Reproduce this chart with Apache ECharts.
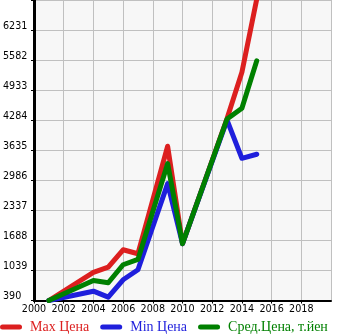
<!DOCTYPE html>
<html>
<head>
<meta charset="utf-8">
<script src="https://cdn.jsdelivr.net/npm/echarts@6/dist/echarts.min.js"></script>
<style>
  html, body { margin: 0; padding: 0; background: #ffffff; }
  #chart { width: 345px; height: 335px; }
</style>
</head>
<body>
<div id="chart"></div>
<script>
// Price history by model year (thousand yen)
const years     = [2001, 2004, 2005, 2006, 2007, 2009, 2010, 2013, 2014, 2015];
const maxPrice  = [390,  996, 1111, 1486, 1400, 3721, 1616, 4320, 5322, 6900];
const minPrice  = [390,  591,  462,  838, 1054, 2914, 1616, 4284, 3461, 3548];
const avgPrice  = [390,  823,  773, 1162, 1277, 3347, 1616, 4310, 4543, 5567];

const seriesNames = ['Max Цена', 'Min Цена', 'Сред.Цена, т.йен'];
const seriesColors = ['#dc1f1f', '#1f1fdc', '#008000'];

// Axis ticks
const yTicks = [390, 1039, 1688, 2337, 2986, 3635, 4284, 4933, 5582, 6231, 6880];
const yLabels = [390, 1039, 1688, 2337, 2986, 3635, 4284, 4933, 5582, 6231];
const xMin = 2000, xMax = 2020, xStep = 2;

const pairs = (vals) => years.map((y, i) => [y, vals[i]]);
const capsule = 'path://M2.5,0H19.5A2.5,2.5,0,0,1,19.5,5H2.5A2.5,2.5,0,0,1,2.5,0Z';

const chart = echarts.init(document.getElementById('chart'), null, { renderer: 'canvas' });

const tickFont = { fontFamily: 'DejaVu Sans', fontSize: 9.6, color: '#000' };

chart.setOption({
  animation: false,
  backgroundColor: '#ffffff',
  grid: {
    left: 31, top: 0, width: 300, height: 300.5,
    show: true, backgroundColor: '#f7f7f7', borderWidth: 0
  },
  xAxis: {
    type: 'value',
    min: xMin, max: xMax, interval: xStep,
    axisLine: { show: true, lineStyle: { color: '#000', width: 2 } },
    axisTick: { show: true, length: 3, lineStyle: { color: '#000', width: 1 } },
    axisLabel: Object.assign({ margin: 4, showMaxLabel: false,
      formatter: (v) => (v >= xMax ? '' : String(v)) }, tickFont),
    splitLine: { show: true, lineStyle: { color: '#c0c0c0', width: 1 } }
  },
  yAxis: {
    type: 'value',
    min: yTicks[0], max: yTicks[yTicks.length - 1],
    axisLine: { show: true, lineStyle: { color: '#000', width: 3 } },
    axisTick: { show: true, length: 3, customValues: yTicks, lineStyle: { color: '#000', width: 1 } },
    axisLabel: Object.assign({
      customValues: yLabels, align: 'left', margin: 31,
      verticalAlign: 'bottom', lineHeight: 8,
      formatter: (v) => String(v)
    }, tickFont),
    splitLine: { show: true, lineStyle: { color: '#c0c0c0', width: 1 } }
  },
  legend: {
    left: 0, top: 320, padding: 0,
    itemWidth: 22, itemHeight: 5, itemGap: 11,
    icon: capsule,
    textStyle: { fontFamily: 'Liberation Serif', fontSize: 14, padding: [0, 0, 0, 3] },
    data: seriesNames.map((n, i) => ({ name: n, textStyle: { color: seriesColors[i] } }))
  },
  series: [maxPrice, minPrice, avgPrice].map((vals, i) => ({
    name: seriesNames[i],
    type: 'line',
    data: pairs(vals),
    color: seriesColors[i],
    showSymbol: false,
    symbol: 'none',
    clip: true,
    lineStyle: { width: 5, color: seriesColors[i], join: 'round', cap: 'round' }
  }))
});
</script>
</body>
</html>
